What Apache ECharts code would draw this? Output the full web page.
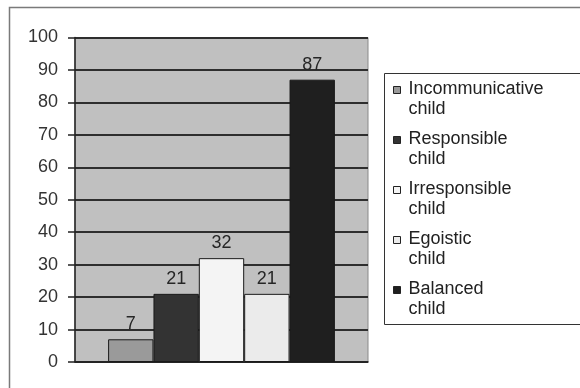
<!DOCTYPE html>
<html>
<head>
<meta charset="utf-8">
<script src="https://cdn.jsdelivr.net/npm/echarts@6/dist/echarts.min.js"></script>
<style>
  html, body { margin: 0; padding: 0; background: #fff; }
  #chart { width: 580px; height: 388px; }
</style>
</head>
<body>
<div id="chart"></div>
<script>
// data
const categories = ['']
const seriesNames = [
  'Incommunicative child',
  'Responsible child',
  'Irresponsible child',
  'Egoistic child',
  'Balanced child'
]
const seriesValues = [7, 21, 32, 21, 87]
const seriesColors = ['#9a9a9a', '#333333', '#f4f4f4', '#ebebeb', '#1f1f1f']
const yMin = 0
const yMax = 100
const yStep = 10

const font = 'Liberation Sans, Arial, sans-serif'

const chart = echarts.init(document.getElementById('chart'))

const series = seriesNames.map((name, i) => ({
  name: name,
  type: 'bar',
  data: [seriesValues[i]],
  barGap: '0%',
  barCategoryGap: '22.6%',
  itemStyle: {
    color: seriesColors[i],
    borderColor: '#1a1a1a',
    borderWidth: 1
  },
  label: {
    show: true,
    position: 'top',
    distance: 6,
    fontFamily: font,
    fontSize: 18,
    color: '#262626'
  },
  emphasis: { disabled: true }
}))

chart.setOption({
  animation: false,
  graphic: [
    {
      // outer chart frame (runs off the right and bottom edges)
      type: 'rect',
      shape: { x: 9.5, y: 7.5, width: 700, height: 500 },
      style: { fill: 'none', stroke: '#7a7a7a', lineWidth: 1.5 },
      z: 0
    },
    {
      // legend box
      type: 'rect',
      shape: { x: 384.5, y: 73.5, width: 300, height: 251 },
      style: { fill: '#fff', stroke: '#333', lineWidth: 1 },
      z: 0
    }
  ],
  grid: {
    left: 75,
    right: 212,
    top: 37.5,
    bottom: 26,
    show: true,
    backgroundColor: '#c0c0c0',
    borderColor: '#8a8a8a',
    borderWidth: 1
  },
  legend: {
    orient: 'vertical',
    left: 393,
    top: 61,
    padding: 0,
    itemGap: -7,
    itemWidth: 7,
    itemHeight: 7,
    icon: 'rect',
    itemStyle: { borderColor: '#222', borderWidth: 1 },
    // first word on the icon's line, "child" on the next
    formatter: (name) => {
      const parts = name.split(' ')
      return '{pad| }\n{t|' + parts[0] + '}\n{t|' + parts.slice(1).join(' ') + '}'
    },
    textStyle: {
      fontFamily: font,
      fontSize: 18,
      color: '#222',
      rich: {
        pad: { fontSize: 1, lineHeight: 18, height: 18 },
        t: { fontFamily: font, fontSize: 18, lineHeight: 20, color: '#222', padding: [0, 0, 0, 3] }
      }
    },
    selectedMode: false,
    data: seriesNames
  },
  xAxis: {
    type: 'category',
    data: categories,
    axisLine: { show: true, lineStyle: { color: '#222', width: 1.5 } },
    axisTick: { show: false },
    axisLabel: { show: false },
    splitLine: { show: false }
  },
  yAxis: {
    type: 'value',
    min: yMin,
    max: yMax,
    interval: yStep,
    axisLine: { show: true, lineStyle: { color: '#222', width: 1.5 } },
    axisTick: { show: true, length: 7, lineStyle: { color: '#222', width: 1.5 } },
    axisLabel: {
      margin: 17,
      fontFamily: font,
      fontSize: 18,
      color: '#333'
    },
    splitLine: { show: true, lineStyle: { color: '#2e2e2e', width: 1.8 } }
  },
  series: series
})
</script>
</body>
</html>
